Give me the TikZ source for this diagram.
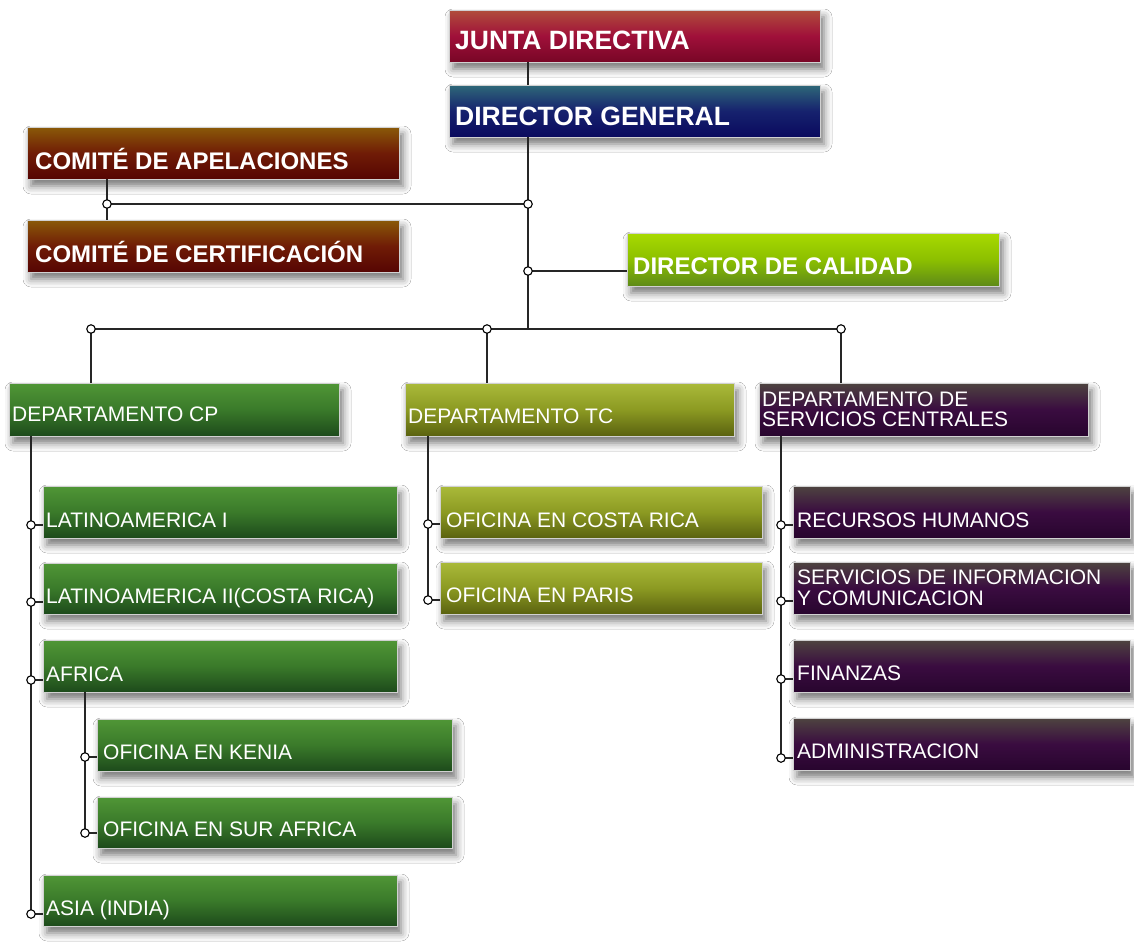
\documentclass[tikz,border=0pt]{standalone}
\usepackage{fontspec}
\setmainfont{Liberation Sans}
\usetikzlibrary{shadows.blur}
\definecolor{juT}{HTML}{B04E3A}\definecolor{juM}{HTML}{A0103A}\definecolor{juB}{HTML}{780626}
\definecolor{dgT}{HTML}{2E6878}\definecolor{dgM}{HTML}{16226E}\definecolor{dgB}{HTML}{0A0A5E}
\definecolor{coT}{HTML}{8A5A08}\definecolor{coM}{HTML}{701C06}\definecolor{coB}{HTML}{560503}
\definecolor{caT}{HTML}{A8DA00}\definecolor{caM}{HTML}{8CC000}\definecolor{caB}{HTML}{5E8A18}
\definecolor{cpT}{HTML}{509636}\definecolor{cpM}{HTML}{3A7A2A}\definecolor{cpB}{HTML}{1D4A1B}
\definecolor{tcT}{HTML}{AABA3A}\definecolor{tcM}{HTML}{8C9A22}\definecolor{tcB}{HTML}{5A6210}
\definecolor{scT}{HTML}{4E4440}\definecolor{scM}{HTML}{3A0C40}\definecolor{scB}{HTML}{28052E}
\newcommand\mkbox[6]{\node[#2, minimum width={(#5-#3)*1pt}, minimum height={(#6-#4)*1pt}] (#1) at (#3,#4) {};}
\newcommand\twoline[3]{\vbox{\baselineskip=#3\hbox{#1}\hbox{#2}}}
\tikzset{
  box/.style={rectangle, inner sep=0pt, outer sep=0pt, anchor=north west,
    draw=white!82!black, line width=0.8pt,
    blur shadow={shadow xshift=4pt, shadow yshift=-7pt, shadow blur radius=8pt, shadow opacity=55}},
  junta/.style={box, top color=juT, bottom color=juB, middle color=juM},
  dirg/.style={box, top color=dgT, bottom color=dgB, middle color=dgM},
  comite/.style={box, top color=coT, bottom color=coB, middle color=coM},
  calid/.style={box, top color=caT, bottom color=caB, middle color=caM},
  cpbox/.style={box, top color=cpT, bottom color=cpB, middle color=cpM},
  tcbox/.style={box, top color=tcT, bottom color=tcB, middle color=tcM},
  scbox/.style={box, top color=scT, bottom color=scB, middle color=scM},
  ttl/.style={text=white, inner sep=0pt, anchor=base west, font=\bfseries\fontsize{26.5}{28}\selectfont},
  ttls/.style={ttl, font=\bfseries\fontsize{24}{26}\selectfont},
  lbl/.style={text=white, inner sep=0pt, anchor=base west, font=\fontsize{21}{22}\selectfont},
  jn/.style={circle, draw=black, fill=white, line width=1.1pt, inner sep=0pt, minimum size=8.5pt},
  cn/.style={draw=black!85, line width=1.6pt},
}
\begin{document}
\begin{tikzpicture}[x=1pt,y=-1pt]
\fill[white] (0,0) rectangle (1134,943);
\useasboundingbox (0,0) rectangle (1134,943);
% boxes
\mkbox{junta}{junta}{449}{10}{820}{62}
\mkbox{dg}{dirg}{449}{85}{820}{137}
\mkbox{apel}{comite}{27}{127}{399}{179}
\mkbox{cert}{comite}{27}{220}{399}{272}
\mkbox{calidad}{calid}{627}{233}{999}{286}
\mkbox{cp}{cpbox}{9}{383}{339}{436}
\mkbox{tc}{tcbox}{405}{383}{734}{436}
\mkbox{sc}{scbox}{759}{383}{1088}{436}
\mkbox{lat1}{cpbox}{43}{486}{397}{538}
\mkbox{lat2}{cpbox}{43}{563}{397}{614}
\mkbox{africa}{cpbox}{43}{640}{397}{692}
\mkbox{kenia}{cpbox}{97}{719}{452}{771}
\mkbox{sur}{cpbox}{97}{797}{452}{848}
\mkbox{asia}{cpbox}{43}{875}{397}{926}
\mkbox{cr}{tcbox}{440}{486}{762}{538}
\mkbox{paris}{tcbox}{440}{562}{762}{614}
\mkbox{rrhh}{scbox}{793}{486}{1130}{538}
\mkbox{sic}{scbox}{793}{562}{1130}{614}
\mkbox{fin}{scbox}{793}{640}{1130}{692}
\mkbox{adm}{scbox}{793}{718}{1130}{770}
% texts
\node[ttl]  (t-junta) at ([xshift=6pt,yshift=13pt]junta.south west) {JUNTA DIRECTIVA};
\node[ttl]  (t-dg) at ([xshift=6pt,yshift=12pt]dg.south west) {DIRECTOR GENERAL};
\node[ttls] (t-apel) at ([xshift=8pt,yshift=10pt]apel.south west) {COMITÉ DE APELACIONES};
\node[ttls] (t-cert) at ([xshift=8pt,yshift=10pt]cert.south west) {COMITÉ DE CERTIFICACIÓN};
\node[ttls] (t-cal) at ([xshift=6pt,yshift=12pt]calidad.south west) {DIRECTOR DE CALIDAD};
\node[lbl] (t-cp) at ([xshift=3pt,yshift=15pt]cp.south west) {DEPARTAMENTO CP};
\node[lbl] (t-tc) at ([xshift=3pt,yshift=13pt]tc.south west) {DEPARTAMENTO TC};
\node[lbl] (t-sc) at ([xshift=3pt,yshift=10pt]sc.south west) {\twoline{DEPARTAMENTO DE}{SERVICIOS CENTRALES}{19.5pt}};
\node[lbl] (t-lat1) at ([xshift=3pt,yshift=11pt]lat1.south west) {LATINOAMERICA I};
\node[lbl] (t-lat2) at ([xshift=3pt,yshift=11pt]lat2.south west) {LATINOAMERICA II(COSTA RICA)};
\node[lbl] (t-afr) at ([xshift=3pt,yshift=11pt]africa.south west) {AFRICA};
\node[lbl] (t-ken) at ([xshift=6pt,yshift=12pt]kenia.south west) {OFICINA EN KENIA};
\node[lbl] (t-sur) at ([xshift=6pt,yshift=12pt]sur.south west) {OFICINA EN SUR AFRICA};
\node[lbl] (t-asia) at ([xshift=3pt,yshift=11pt]asia.south west) {ASIA (INDIA)};
\node[lbl] (t-cr) at ([xshift=6pt,yshift=11pt]cr.south west) {OFICINA EN COSTA RICA};
\node[lbl] (t-par) at ([xshift=6pt,yshift=12pt]paris.south west) {OFICINA EN PARIS};
\node[lbl] (t-rh) at ([xshift=4pt,yshift=11pt]rrhh.south west) {RECURSOS HUMANOS};
\node[lbl] (t-sic) at ([xshift=4pt,yshift=9pt]sic.south west) {\twoline{SERVICIOS DE INFORMACION}{Y COMUNICACION}{21pt}};
\node[lbl] (t-fin) at ([xshift=4pt,yshift=12pt]fin.south west) {FINANZAS};
\node[lbl] (t-adm) at ([xshift=4pt,yshift=12pt]adm.south west) {ADMINISTRACION};
% junction points
\coordinate (b0) at (528,329);
\coordinate (j1) at (528,204);
\coordinate (j2) at (107,204);
\coordinate (j3) at (528,271);
\coordinate (j4) at (91,329);
\coordinate (j5) at (487,329);
\coordinate (j6) at (841,329);
\coordinate (jc1) at (31,525);
\coordinate (jc2) at (31,602);
\coordinate (jc3) at (31,680);
\coordinate (jc4) at (31,914);
\coordinate (ja1) at (85,757);
\coordinate (ja2) at (85,833);
\coordinate (jt1) at (428,524);
\coordinate (jt2) at (428,600);
\coordinate (js1) at (781,525);
\coordinate (js2) at (781,601);
\coordinate (js3) at (781,679);
\coordinate (js4) at (781,758);
% connectors
\draw[cn] (junta.south -| b0) -- (dg.north -| b0);
\draw[cn] (dg.south -| b0) -- (b0);
\draw[cn] (apel.south -| j2) -- (cert.north -| j2);
\draw[cn] (j2) -- (j1);
\draw[cn] (j3) -- (calidad.west |- j3);
\draw[cn] (j4) -- (j6);
\draw[cn] (j4) -- (cp.north -| j4);
\draw[cn] (j5) -- (tc.north -| j5);
\draw[cn] (j6) -- (sc.north -| j6);
\draw[cn] (cp.south -| jc1) -- (jc4);
\draw[cn] (jc1) -- (lat1.west |- jc1);
\draw[cn] (jc2) -- (lat2.west |- jc2);
\draw[cn] (jc3) -- (africa.west |- jc3);
\draw[cn] (jc4) -- (asia.west |- jc4);
\draw[cn] (africa.south -| ja1) -- (ja2);
\draw[cn] (ja1) -- (kenia.west |- ja1);
\draw[cn] (ja2) -- (sur.west |- ja2);
\draw[cn] (tc.south -| jt1) -- (jt2);
\draw[cn] (jt1) -- (cr.west |- jt1);
\draw[cn] (jt2) -- (paris.west |- jt2);
\draw[cn] (sc.south -| js1) -- (js4);
\draw[cn] (js1) -- (rrhh.west |- js1);
\draw[cn] (js2) -- (sic.west |- js2);
\draw[cn] (js3) -- (fin.west |- js3);
\draw[cn] (js4) -- (adm.west |- js4);
% junction circles
\foreach \p in {j1,j2,j3,j4,j5,j6,jc1,jc2,jc3,jc4,ja1,ja2,jt1,jt2,js1,js2,js3,js4}
  \node[jn] (c-\p) at (\p) {};
\end{tikzpicture}
\end{document}
